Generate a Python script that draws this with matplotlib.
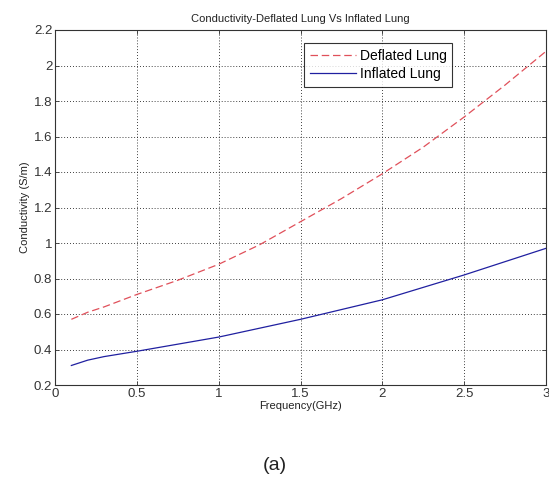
import matplotlib
matplotlib.use("Agg")
import matplotlib.pyplot as plt
import numpy as np

freq_deflated = [0.1, 0.2, 0.3, 0.5, 0.75, 1.0, 1.25, 1.5, 1.75, 2.0, 2.25, 2.5, 2.75, 3.0]
cond_deflated = [0.57, 0.61, 0.64, 0.71, 0.79, 0.88, 0.99, 1.12, 1.25, 1.39, 1.54, 1.71, 1.89, 2.08]

freq_inflated = [0.1, 0.2, 0.3, 0.5, 0.75, 1.0, 1.25, 1.5, 1.75, 2.0, 2.25, 2.5, 2.75, 3.0]
cond_inflated = [0.31, 0.34, 0.36, 0.39, 0.43, 0.47, 0.52, 0.57, 0.625, 0.68, 0.75, 0.82, 0.895, 0.97]

plt.rcParams["font.family"] = ["Liberation Sans", "DejaVu Sans"]

fig = plt.figure(figsize=(5.49, 4.83), dpi=100)
ax = fig.add_axes([55 / 549, 1 - 385 / 483, 491 / 549, 355 / 483])

ax.plot(freq_deflated, cond_deflated, "--", color="#e0505a", lw=0.9,
        dashes=(6, 3), label="Deflated Lung")
ax.plot(freq_inflated, cond_inflated, "-", color="#2020a0", lw=0.9,
        label="Inflated Lung")

ax.set_xlim(0, 3)
ax.set_ylim(0.2, 2.2)
ax.set_xticks(np.arange(0, 3.01, 0.5))
ax.set_xticklabels(["0", "0.5", "1", "1.5", "2", "2.5", "3"])
ax.set_yticks(np.arange(0.2, 2.21, 0.2))
ax.set_yticklabels(["0.2", "0.4", "0.6", "0.8", "1", "1.2", "1.4", "1.6", "1.8", "2", "2.2"])
ax.tick_params(direction="in", length=3, labelsize=9.5, width=0.6, pad=2,
               top=True, right=True, colors="#333333")
ax.grid(True, linestyle=(0, (1, 2.5)), color="black", lw=0.6)
for s in ax.spines.values():
    s.set_linewidth(0.8)
    s.set_color("#333333")

ax.set_title("Conductivity-Deflated Lung Vs Inflated Lung", fontsize=8, pad=6, color="#222222")
ax.set_xlabel("Frequency(GHz)", fontsize=8, labelpad=1, color="#222222")
ax.set_ylabel("Conductivity (S/m)", fontsize=8, labelpad=3, color="#222222")

leg = ax.legend(loc="upper left", bbox_to_anchor=(0.508, 0.962), fontsize=10,
                frameon=True, fancybox=False, edgecolor="black", borderpad=0.4,
                handlelength=3.3, handletextpad=0.3, labelspacing=0.3, borderaxespad=0)
leg.get_frame().set_linewidth(0.8)

fig.text(0.5, 1 - 465 / 483, "(a)", ha="center", va="center", fontsize=14, color="#222222")

fig.savefig("out.png", dpi=100)
